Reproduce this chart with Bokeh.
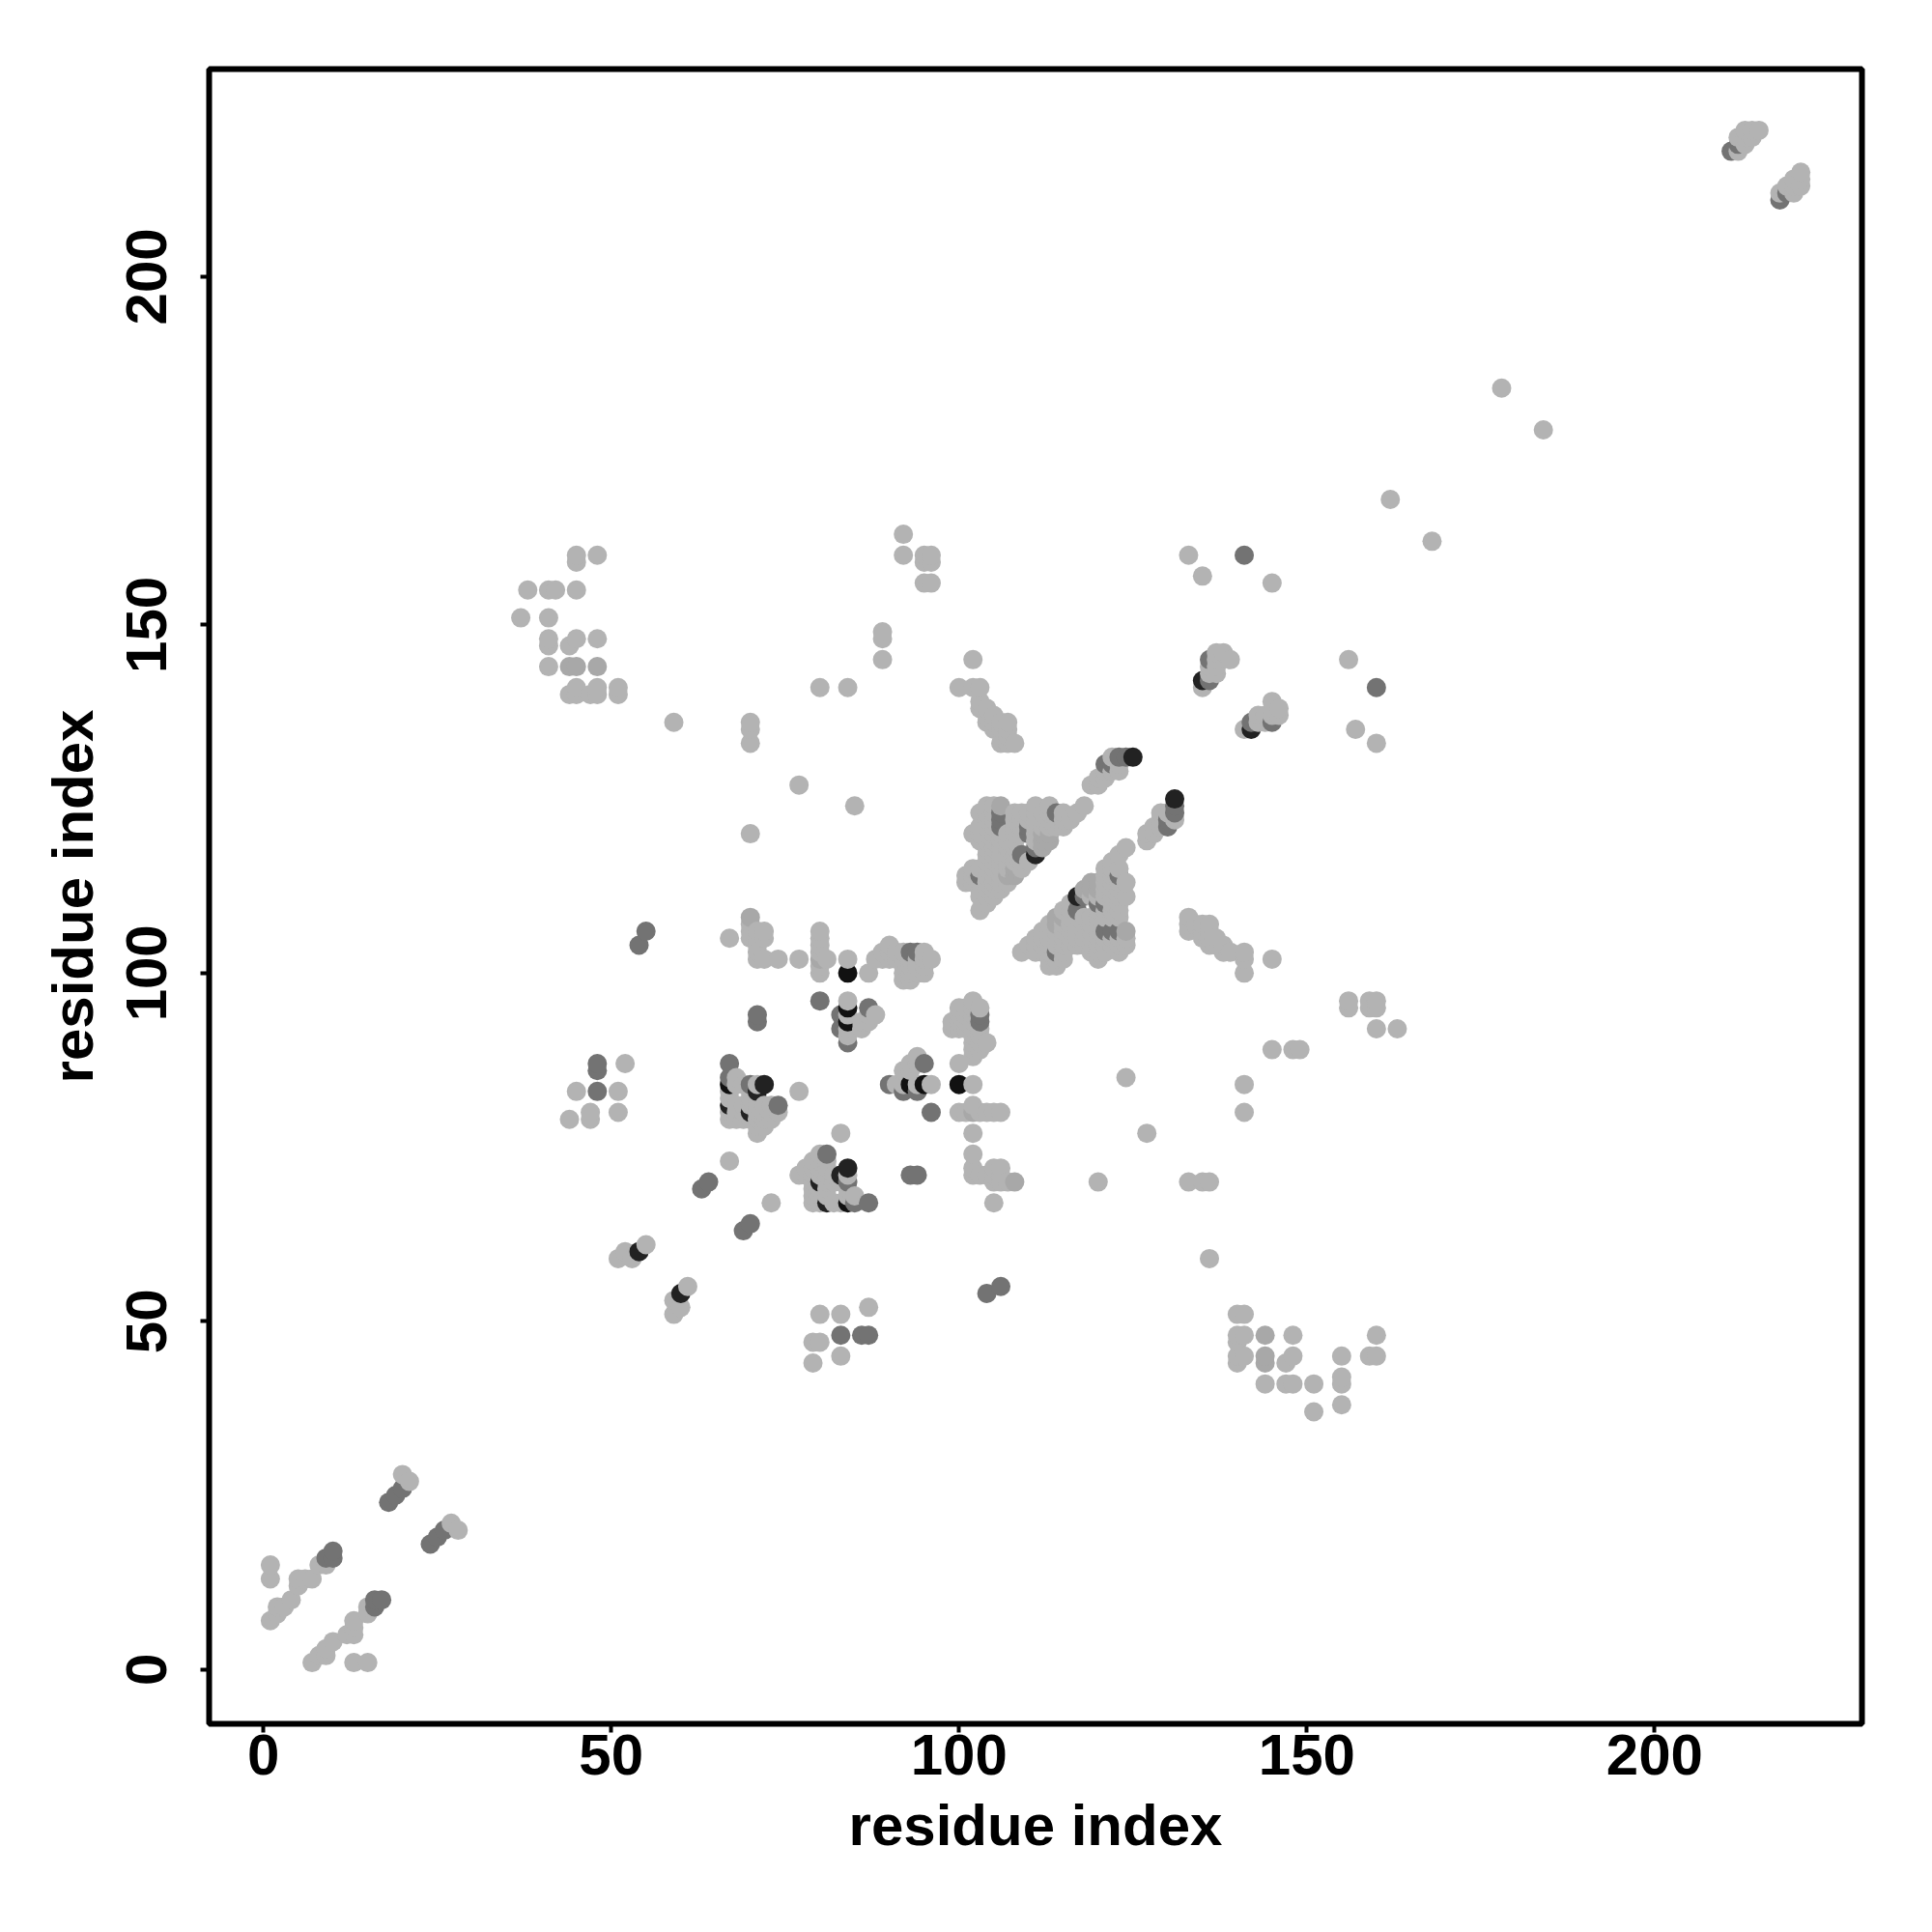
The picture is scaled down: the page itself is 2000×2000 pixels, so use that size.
from bokeh.plotting import figure
from bokeh.models import ColumnDataSource, Range1d, FixedTicker
from bokeh.embed import file_html
from bokeh.resources import INLINE

# Contacts (i < j); the map is symmetric, so each is also drawn as (j, i)
light_contacts = [
 (1,7),(1,13),(1,15),(2,8),(2,9),(3,9),(4,10),(5,12),(5,13),(6,13),(7,13),(8,15),(9,15),
 (20,28),(21,27),
 (37,151),(38,155),(41,155),(42,155),(45,155),(41,151),(41,148),(41,147),(41,144),(44,147),(45,148),
 (48,148),(44,140),(45,140),(45,141),(47,140),(48,141),(48,140),(51,141),(51,140),(45,160),(45,159),(48,160),
 (45,83),(47,80),(47,79),(44,79),(51,83),(51,80),(52,87),
 (51,59),(52,60),(53,59),(55,61),
 (59,136),(70,136),(70,135),(70,133),(80,141),(84,141),(77,127),(85,124),(70,120),
 (89,149),(89,148),(89,145),(92,163),(92,160),(96,160),(95,159),(96,159),(95,156),(96,156),(95,160),
 (100,141),(102,141),(103,141),(102,145),
 (103,138),(104,138),(104,137),(105,137),(104,136),(105,135),(106,135),(107,136),(107,135),(106,133),(107,133),(108,133),(107,134),
 (133,160),(135,157),(145,156),(162,168),(178,184),
 (135,141),(136,143),(137,143),(137,144),(136,144),(137,145),(137,146),(138,146),(139,145),
 (67,73),(67,105),(70,107),(70,105),(71,106),(72,106),(72,105),(71,105),(71,104),(71,103),(71,102),(72,102),(74,102),(77,102),
 (80,106),(80,105),(80,104),(80,103),(80,102),(80,101),(80,100),(81,102),(84,102),(87,100),
 (88,102),(89,102),(89,103),(90,102),(90,103),(90,104),(91,102),(91,103),(92,102),(93,102),
 (92,99),(92,100),(92,101),(93,99),(93,100),(93,101),(94,100),(94,101),(94,102),(95,100),(95,101),(95,102),(96,102),
 (84,96),(84,94),(84,92),(84,91),(88,94),(87,94),(87,93),(86,92),(86,93),
 (67,80),(67,82),(67,83),(67,79),(68,79),(68,80),(68,81),(68,84),(68,85),(69,79),(69,80),(69,81),(69,84),(70,79),(70,81),(70,82),(70,83),
 (71,77),(71,78),(71,79),(71,80),(71,81),(71,82),(71,84),(72,78),(72,79),(72,80),(72,81),(73,79),(73,80),(73,81),(74,80),
 (77,83),(83,77),
 (92,84),(94,84),(96,84),(102,84),(92,86),(93,87),(94,88),(94,87),
 (100,87),(102,81),(100,80),(101,80),(103,80),(104,80),(105,80),(106,80),(102,77),(102,74),(102,72),(102,71),(103,71),
 (105,72),(106,72),(105,71),(106,71),(105,70),(106,70),(107,70),(108,70),(105,67),(120,70),(127,77),(124,85),(133,70),(135,70),(136,70),
 (102,96),(101,95),(100,95),(99,93),(99,92),(100,94),(100,93),(100,92),(101,94),(101,93),(101,92),(102,95),(102,94),(102,93),(102,92),(103,95),
 (104,90),(103,90),(102,90),(102,89),(103,89),(102,88),(103,91),(102,91),(103,92),
 (119,127),(120,127),(121,128),(122,129),(123,129),(123,130),(122,131),(121,129),(120,128),
 (104,124),(105,124),(111,124),(113,124),(118,124),
 (103,123),(104,123),(105,123),(108,123),(109,123),(110,123),(111,123),(112,123),(113,123),(115,123),(117,123),
 (104,122),(105,122),(108,122),(109,122),(110,122),(111,122),(112,122),(113,122),(114,122),(115,122),(116,122),
 (103,121),(104,121),(105,121),(108,121),(109,121),(111,121),(112,121),(113,121),(114,121),(115,121),
 (102,120),(103,120),(104,120),(105,120),(106,120),(107,120),(108,120),(109,120),(111,120),(112,120),(113,120),
 (103,119),(104,119),(105,119),(106,119),(107,119),(108,119),(111,119),
 (104,118),(105,118),(106,118),(107,118),(108,118),
 (104,117),(105,117),(106,117),(107,117),(108,117),
 (104,116),(105,116),(106,116),(107,116),(108,116),(109,116),(110,116),
 (102,115),(103,115),(104,115),(105,115),(106,115),(107,115),(108,115),(109,115),
 (101,114),(102,114),(104,114),(105,114),(106,114),(107,114),
 (101,113),(102,113),(103,113),(104,113),(105,113),(106,113),(107,113),
 (103,112),(104,112),(105,112),(106,112),(103,111),(104,111),(105,111),(104,110),(103,109),
 (141,103),(141,102),(141,100),(145,102),(133,106),(133,108),(134,107),(135,106),(135,105),(136,105),(136,106),(137,104),(138,103),(139,103),
 (141,84),(141,80),(145,89),(148,89),(149,89),
 (156,95),(156,96),(159,95),(159,96),(160,96),(160,92),(163,92),
 (212,218),(212,220),(213,220),(213,221),(214,220),(214,221),(215,221),(213,219),
]
shaded_contacts = [
 (44,144),(45,144),(48,144),(107,114),(108,114),(108,115),(112,119),(113,119),(112,118),(112,120),(113,120),(70,108),(102,80),(106,124),
]
mid_contacts = [
 (9,16),(10,16),(10,17),(18,24),(19,25),(20,26),(48,87),(48,86),(48,83),(54,104),(55,106),
 (63,69),(64,70),(71,94),(71,93),(80,96),(83,94),(83,92),(84,90),(87,95),(67,87),(67,85),(70,84),(74,81),
 (90,84),(92,83),(94,83),(96,80),(93,71),(94,71),(93,103),(94,103),(103,93),(103,94),(95,87),
 (141,160),(136,145),(136,142),(122,130),(121,130),(123,131),(124,131),(131,124),
 (106,121),(106,122),(106,123),(109,117),(111,118),(110,120),(110,121),(114,123),(103,114),
 (211,218),(212,219),
]
dark_contacts = [
 (54,60),(84,95),(84,93),(71,83),(72,84),(135,142),(111,117),(125,131),(67,81),(70,80),
]
black_contacts = [
 (84,100),(67,84),(93,84),(95,84),
]

level_colors = {"light": "#b3b3b3", "shaded": "#a8a8a8", "mid": "#737373", "dark": "#222222", "black": "#111111"}
groups = [("light", light_contacts), ("shaded", shaded_contacts), ("mid", mid_contacts),
          ("dark", dark_contacts), ("black", black_contacts)]

cells = {}
for name, pairs in groups:
    for a, b in pairs:
        cells[(a, b)] = level_colors[name]
        cells[(b, a)] = level_colors[name]
ordered = sorted(cells)

tick_values = [0, 50, 100, 150, 200]
axis_title = "residue index"

source = ColumnDataSource(dict(x=[c[0] for c in ordered], y=[c[1] for c in ordered],
                               color=[cells[c] for c in ordered]))

p = figure(width=1984, height=1984, output_backend="svg", toolbar_location=None,
           x_range=Range1d(-7.8, 229.8), y_range=Range1d(-7.8, 229.8),
           min_border_left=216, min_border_right=57, min_border_top=71, min_border_bottom=200)
p.background_fill_color = "white"
p.border_fill_color = "white"
p.grid.visible = False
p.outline_line_color = "black"
p.outline_line_width = 6

p.scatter("x", "y", source=source, size=20, marker="circle", fill_color="color", line_color=None)

font = "Liberation Sans"
for ax in (p.xaxis[0], p.yaxis[0]):
    ax.ticker = FixedTicker(ticks=tick_values)
    ax.axis_line_color = None
    ax.minor_tick_line_color = None
    ax.major_tick_line_color = "black"
    ax.major_tick_line_width = 4
    ax.major_tick_in = 0
    ax.major_tick_out = 9
    ax.axis_label = axis_title
    ax.axis_label_text_font = font
    ax.axis_label_text_font_style = "bold"
    ax.axis_label_text_font_size = "60px"
    ax.axis_label_text_color = "black"
    ax.major_label_text_font = font
    ax.major_label_text_font_style = "bold"
    ax.major_label_text_font_size = "60px"
    ax.major_label_text_color = "black"
p.xaxis[0].major_label_standoff = 2
p.xaxis[0].axis_label_standoff = 16
p.yaxis[0].major_label_orientation = "vertical"
p.yaxis[0].major_label_standoff = 35
p.yaxis[0].axis_label_standoff = 20

open("out.html", "w").write(file_html(p, INLINE))
